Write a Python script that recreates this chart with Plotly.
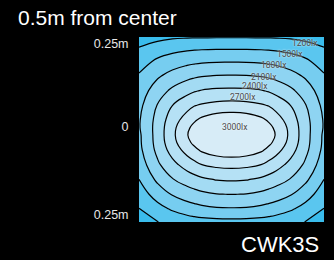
import plotly.graph_objects as go

# Grid positions (m) and illuminance values (lx)
x_pos = [-0.25, -0.2, -0.16, -0.12, -0.1, -0.08, -0.04, 0.0, 0.04, 0.08, 0.1, 0.12, 0.16, 0.2, 0.25]
y_pos = [-0.25, -0.215, -0.175, -0.135, -0.095, -0.055, -0.035, -0.015, 0.005,
         0.025, 0.065, 0.105, 0.145, 0.185, 0.225, 0.25]

row_m250 = [1030, 1195, 1280, 1345, 1370, 1390, 1410, 1415, 1410, 1390, 1370, 1345, 1280, 1195, 1030]
row_m215 = [1191, 1390, 1533, 1641, 1684, 1719, 1761, 1771, 1761, 1719, 1684, 1641, 1533, 1390, 1191]
row_m175 = [1349, 1627, 1823, 1946, 1996, 2039, 2093, 2105, 2093, 2039, 1996, 1946, 1823, 1627, 1349]
row_m135 = [1499, 1862, 2082, 2231, 2294, 2349, 2416, 2431, 2416, 2349, 2294, 2231, 2082, 1862, 1499]
row_m095 = [1631, 2049, 2312, 2526, 2617, 2700, 2768, 2793, 2768, 2700, 2617, 2526, 2312, 2049, 1631]
row_m055 = [1721, 2176, 2523, 2813, 2939, 3047, 3166, 3205, 3166, 3047, 2939, 2813, 2523, 2176, 1721]
row_m035 = [1741, 2209, 2599, 2930, 3066, 3155, 3274, 3314, 3274, 3155, 3066, 2930, 2599, 2209, 1741]
row_m015 = [1747, 2219, 2628, 2988, 3103, 3191, 3310, 3350, 3310, 3191, 3103, 2988, 2628, 2219, 1747]
row_p005 = [1775, 2216, 2614, 2946, 3082, 3175, 3289, 3321, 3289, 3175, 3082, 2946, 2614, 2216, 1775]
row_p025 = [1772, 2199, 2561, 2843, 2971, 3071, 3186, 3217, 3186, 3071, 2971, 2843, 2561, 2199, 1772]
row_p065 = [1719, 2116, 2398, 2597, 2688, 2734, 2789, 2805, 2789, 2734, 2688, 2597, 2398, 2116, 1719]
row_p105 = [1641, 1949, 2160, 2311, 2374, 2415, 2451, 2459, 2451, 2415, 2374, 2311, 2160, 1949, 1641]
row_p145 = [1531, 1759, 1903, 2012, 2053, 2084, 2111, 2115, 2111, 2084, 2053, 2012, 1903, 1759, 1531]
row_p185 = [1365, 1548, 1642, 1711, 1736, 1753, 1771, 1773, 1771, 1753, 1736, 1711, 1642, 1548, 1365]
row_p225 = [1188, 1306, 1367, 1405, 1415, 1422, 1427, 1428, 1427, 1422, 1415, 1405, 1367, 1306, 1188]
row_p250 = [1020, 1105, 1155, 1172, 1176, 1178, 1180, 1180, 1180, 1178, 1176, 1172, 1155, 1105, 1020]

z_lx = [row_m250, row_m215, row_m175, row_m135, row_m095, row_m055, row_m035, row_m015,
        row_p005, row_p025, row_p065, row_p105, row_p145, row_p185, row_p225, row_p250]

levels = [1200, 1500, 1800, 2100, 2400, 2700, 3000]
level_labels = ["1200lx", "1500lx", "1800lx", "2100lx", "2400lx", "2700lx", "3000lx"]

y_tick_labels = ["0.25m", "0", "0.25m"]
title_text = "0.5m from center"
model_text = "CWK3S"

# label placement (style, not data)
label_xy = [(0.199, 0.2346), (0.1568, 0.204), (0.1149, 0.1743), (0.0865, 0.1427),
            (0.0622, 0.1176), (0.0324, 0.0886), (0.0081, 0.0076)]
y_tick_pos = [0.231, 0.007, -0.231]

colorscale = [
    [0.0, "rgb(58,188,236)"],
    [1 / 7, "rgb(90,198,239)"],
    [2 / 7, "rgb(118,205,240)"],
    [3 / 7, "rgb(142,212,242)"],
    [4 / 7, "rgb(163,219,243)"],
    [5 / 7, "rgb(181,225,245)"],
    [6 / 7, "rgb(198,230,246)"],
    [1.0, "rgb(215,236,247)"],
]

fig = go.Figure()
fig.add_trace(go.Contour(
    x=x_pos, y=y_pos, z=z_lx,
    contours=dict(start=levels[0], end=levels[-1], size=levels[1] - levels[0],
                  coloring="fill", showlabels=False),
    colorscale=colorscale,
    showscale=False,
    line=dict(color="black", width=1.2, smoothing=1.3),
    hoverinfo="skip",
))

annotations = []
for (lx, ly), txt in zip(label_xy, level_labels):
    annotations.append(dict(
        x=lx, y=ly, xref="x", yref="y", text=txt, showarrow=False,
        font=dict(family="Roboto", size=8.5, color="#4a4a4a", shadow="0px 0px 2px white"),
        xanchor="center", yanchor="middle",
    ))
annotations.append(dict(
    x=1, y=-0.124, xref="paper", yref="paper", text=model_text, showarrow=False,
    xanchor="right", yanchor="middle", xshift=-3,
    font=dict(family="Liberation Sans", size=22, color="white"),
))

fig.update_layout(
    width=334, height=260,
    paper_bgcolor="black", plot_bgcolor="black",
    margin=dict(l=139, r=10, t=37, b=38),
    title=dict(text=title_text, x=18 / 334, xanchor="left", xref="container",
               y=1 - 18 / 260, yanchor="middle", yref="container",
               font=dict(family="Liberation Sans", size=21, color="white")),
    xaxis=dict(range=[-0.25, 0.25], showgrid=False, zeroline=False,
               showticklabels=False, ticks="", showline=False),
    yaxis=dict(range=[-0.25, 0.25], showgrid=False, zeroline=False, showline=False,
               tickmode="array", tickvals=y_tick_pos, ticktext=y_tick_labels,
               ticks="outside", ticklen=7, tickcolor="rgba(0,0,0,0)",
               tickfont=dict(family="Liberation Sans", size=12.5, color="#e6e6e6")),
    annotations=annotations,
    showlegend=False,
)

fig.write_html("out.html", config={"displayModeBar": False},
               post_script="document.body.style.margin='0';document.body.style.background='black';")
